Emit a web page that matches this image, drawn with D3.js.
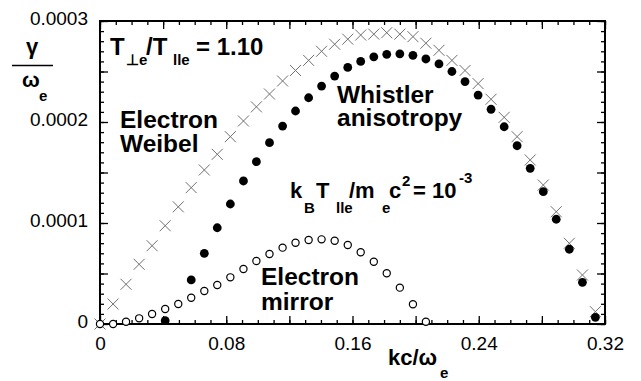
<!DOCTYPE html>
<html lang="en">
	<head>
		<meta charset="UTF-8">
		<title>Growth rate vs kc/omega_e</title>
		<script src="https://d3js.org/d3.v7.min.js"></script>
		<style>
			body { margin: 0; background: white; }
			text { font-family: 'Liberation Sans', Arial, Helvetica, sans-serif; fill: black; }
			.tick text { font-size: 19px; }
			.lab { font-weight: bold; }
		</style>
	</head>
	<body>
		<div id="chart"></div>
		<script>
			// wavenumber grid kc/omega_e (shared by all three series)
			var kc = [0, 0.0083, 0.0165, 0.0248, 0.0330, 0.0413, 0.0496, 0.0578, 0.0661, 0.0743,
				0.0826, 0.0909, 0.0991, 0.1074, 0.1157, 0.1239, 0.1322, 0.1404, 0.1487, 0.1570,
				0.1652, 0.1735, 0.1817, 0.1900, 0.1983, 0.2065, 0.2148, 0.2230, 0.2313, 0.2396,
				0.2478, 0.2561, 0.2643, 0.2726, 0.2809, 0.2891, 0.2974, 0.3057, 0.3139];

			// growth rates gamma/omega_e, in units of 1e-4
			var weibel = [0, 0.198, 0.393, 0.591, 0.775, 0.973, 1.16, 1.35, 1.525, 1.68,
				1.855, 2.01, 2.15, 2.277, 2.406, 2.51, 2.61, 2.70, 2.77, 2.82,
				2.861, 2.87, 2.884, 2.87, 2.845, 2.78, 2.71, 2.61, 2.51, 2.38,
				2.225, 2.046, 1.855, 1.624, 1.376, 1.112, 0.799, 0.485, 0.122];
			var whistler = [null, null, null, null, null, 0.033, null, 0.436, 0.70, 0.953,
				1.188, 1.416, 1.607, 1.795, 1.96, 2.109, 2.24, 2.356, 2.455, 2.54,
				2.60, 2.645, 2.67, 2.675, 2.66, 2.624, 2.575, 2.50, 2.40, 2.267,
				2.126, 1.953, 1.765, 1.541, 1.31, 1.037, 0.74, 0.413, 0.066];
			var mirror = [0, 0, 0.023, 0.056, 0.099, 0.149, 0.198, 0.26, 0.327, 0.386,
				0.462, 0.545, 0.624, 0.693, 0.756, 0.805, 0.832, 0.838, 0.825, 0.782,
				0.71, 0.617, 0.502, 0.36, 0.195, 0.023];

			var xTickLabels = [0, 0.08, 0.16, 0.24, 0.32];
			var yTickLabels = [0, 0.0001, 0.0002, 0.0003];

			var W = 641, H = 381;
			var plotL = 100, plotR = 605, plotT = 21, plotB = 324;

			var x = d3.scaleLinear().domain([0, 0.32]).range([plotL, plotR]);
			var y = d3.scaleLinear().domain([0, 0.0003]).range([plotB, plotT]);

			var svg = d3.select("#chart").append("svg")
				.attr("width", W)
				.attr("height", H);

			function pts(vals) {
				var out = [];
				vals.forEach(function (v, i) {
					if (v !== null) out.push([kc[i], v * 1e-4]);
				});
				return out;
			}

			// axes: inward ticks on all four sides
			var xMajor = d3.range(0, 0.32001, 0.04);
			var xMinor = d3.range(0, 0.32001, 0.01);
			var yMajor = d3.range(0, 0.000300001, 0.00005);
			var yMinor = d3.range(0, 0.000300001, 0.00001);

			function hasLabel(list, d) {
				return list.some(function (t) { return Math.abs(t - d) < 1e-9; });
			}

			svg.append("g").attr("transform", "translate(0," + plotB + ")")
				.call(d3.axisBottom(x).tickValues(xMinor).tickSize(-4).tickFormat(""));
			svg.append("g").attr("transform", "translate(0," + plotB + ")")
				.call(d3.axisBottom(x).tickValues(xMajor).tickSize(-8).tickPadding(13)
					.tickFormat(function (d) { return hasLabel(xTickLabels, d) ? String(+d.toFixed(2)) : ""; }));
			svg.append("g").attr("transform", "translate(0," + plotT + ")")
				.call(d3.axisTop(x).tickValues(xMinor).tickSize(-4).tickFormat(""));
			svg.append("g").attr("transform", "translate(0," + plotT + ")")
				.call(d3.axisTop(x).tickValues(xMajor).tickSize(-8).tickFormat(""));

			svg.append("g").attr("transform", "translate(" + plotL + ",0)")
				.call(d3.axisLeft(y).tickValues(yMinor).tickSize(-4).tickFormat(""));
			var yl = svg.append("g").attr("transform", "translate(" + plotL + ",0)")
				.call(d3.axisLeft(y).tickValues(yMajor).tickSize(-8).tickPadding(12)
					.tickFormat(function (d) { return hasLabel(yTickLabels, d) ? String(+d.toFixed(4)) : ""; }));
			yl.selectAll(".tick text").attr("dy", "0.18em");
			svg.append("g").attr("transform", "translate(" + plotR + ",0)")
				.call(d3.axisRight(y).tickValues(yMinor).tickSize(-4).tickFormat(""));
			svg.append("g").attr("transform", "translate(" + plotR + ",0)")
				.call(d3.axisRight(y).tickValues(yMajor).tickSize(-8).tickFormat(""));

			svg.selectAll(".domain").remove();
			svg.selectAll(".tick line").attr("stroke", "black").attr("stroke-width", 1.3);
			svg.selectAll(".tick text").attr("fill", "black");

			svg.append("rect")
				.attr("x", plotL).attr("y", plotT)
				.attr("width", plotR - plotL).attr("height", plotB - plotT)
				.attr("fill", "none").attr("stroke", "black").attr("stroke-width", 2);

			// electron Weibel: grey crosses
			svg.append("g").selectAll("path")
				.data(pts(weibel))
				.enter().append("path")
				.attr("transform", function (d) { return "translate(" + x(d[0]) + "," + y(d[1]) + ")"; })
				.attr("d", "M-5.5,-5.5L5.5,5.5M-5.5,5.5L5.5,-5.5")
				.attr("stroke", "#707070")
				.attr("stroke-width", 1)
				.attr("fill", "none");

			// whistler anisotropy: filled circles
			svg.append("g").selectAll("circle")
				.data(pts(whistler))
				.enter().append("circle")
				.attr("cx", function (d) { return x(d[0]); })
				.attr("cy", function (d) { return y(d[1]); })
				.attr("r", 4.4)
				.attr("fill", "black");

			// electron mirror: open circles
			svg.append("g").selectAll("circle")
				.data(pts(mirror))
				.enter().append("circle")
				.attr("cx", function (d) { return x(d[0]); })
				.attr("cy", function (d) { return y(d[1]); })
				.attr("r", 3.6)
				.attr("fill", "white")
				.attr("stroke", "black")
				.attr("stroke-width", 1.2);

			// text with sub/superscripts, each piece placed on its own
			function rich(parts) {
				var t = svg.append("text").attr("class", "lab");
				parts.forEach(function (p) {
					t.append("tspan")
						.attr("x", p[1]).attr("y", p[2])
						.style("font-size", p[3] + "px")
						.text(p[0]);
				});
				return t;
			}

			rich([["T", 110, 55, 24], ["\u22A5e", 126, 65, 15], ["/T", 146, 55, 24],
				["lle", 173, 65, 15], ["= 1.10", 196, 55, 24]]);
			rich([["Electron", 120, 128, 24.5], ["Weibel", 120, 152, 24.5]]);
			rich([["Whistler", 337, 103, 24.5], ["anisotropy", 337, 126, 24.5]]);
			rich([["Electron", 261, 285, 24.5], ["mirror", 261, 310, 24.5]]);
			rich([["k", 290, 198, 22], ["B", 304, 213, 15], ["T", 316, 198, 22],
				["lle", 336, 213, 15], ["/m", 349, 198, 22], ["e", 382, 213, 15],
				["c", 389, 198, 22], ["2", 402, 186, 15], ["= 10", 413, 198, 22],
				["-3", 459, 183, 15]]);

			// x axis title
			rich([["kc/\u03C9", 388, 365, 22], ["e", 440, 378, 15]]);

			// y axis title as a fraction
			rich([["\u03B3", 32, 54, 22]]).attr("text-anchor", "middle");
			svg.append("line")
				.attr("x1", 12).attr("x2", 53)
				.attr("y1", 65.5).attr("y2", 65.5)
				.attr("stroke", "black").attr("stroke-width", 1.5);
			rich([["\u03C9", 22, 87, 21], ["e", 39, 101, 15]]);
		</script>
	</body>
</html>
